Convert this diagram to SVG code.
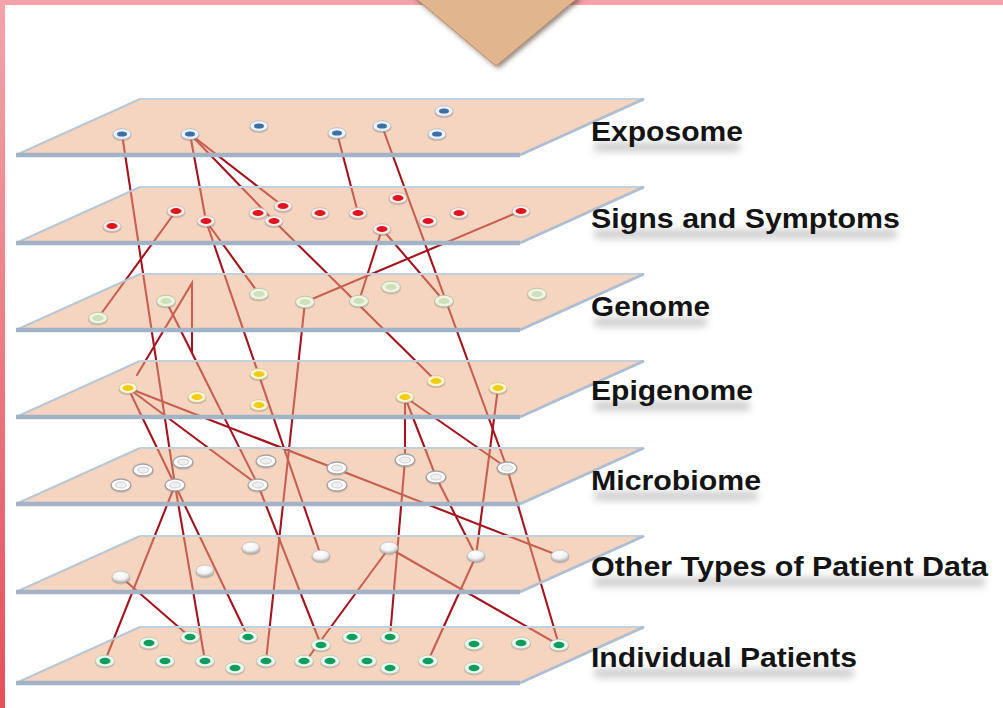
<svg xmlns="http://www.w3.org/2000/svg" width="1003" height="708" viewBox="0 0 1003 708">
<style>
.plane{fill:#ebab81;fill-opacity:.5}
.et{stroke:#c3cfdb;stroke-width:2;fill:none}
.er{stroke:#aebdd0;stroke-width:3;fill:none}
.eb{stroke:#a3b3c6;stroke-width:4.5;fill:none}
.el{stroke:#b9c6d4;stroke-width:2;fill:none}
.lbl{font-family:"Liberation Sans",Arial,sans-serif;font-weight:bold;font-size:27px;fill:#141414}
.sh{fill:#9a9a9a;opacity:.45}
#links line,#links polyline{stroke:#a3141f;stroke-width:2.1;fill:none;stroke-linecap:round}
</style>
<defs>
<linearGradient id="gl" x1="0" y1="0" x2="0" y2="1"><stop offset="0" stop-color="#f4a4aa"/><stop offset="1" stop-color="#e4505c"/></linearGradient>
<radialGradient id="gsph" cx=".45" cy=".3" r=".75"><stop offset="0" stop-color="#ffffff"/><stop offset=".55" stop-color="#f2f2f2"/><stop offset="1" stop-color="#9a9a9a"/></radialGradient>
<filter id="fs" x="-30%" y="-30%" width="160%" height="160%"><feDropShadow dx="2" dy="2" stdDeviation="2.5" flood-color="#3a2a1a" flood-opacity=".6"/></filter>
<filter id="fb" x="-10%" y="-100%" width="120%" height="300%"><feGaussianBlur stdDeviation="3.5"/></filter>
<g id="d-blue"><ellipse cy="1.5" rx="9.5" ry="5.5" fill="#777" opacity=".35"/><ellipse rx="9" ry="5.3" fill="#eef3f7" stroke="#a9bccb" stroke-width=".8"/><ellipse rx="5" ry="2.6" fill="#3d6ea8"/></g>
<g id="d-red"><ellipse cy="1.5" rx="9.5" ry="5.5" fill="#777" opacity=".35"/><ellipse rx="9" ry="5.3" fill="#f6eeea" stroke="#cdb6ae" stroke-width=".8"/><ellipse rx="5.5" ry="3" fill="#e0141e"/></g>
<g id="d-gen"><ellipse cy="1.5" rx="10" ry="6" fill="#777" opacity=".3"/><ellipse rx="9.5" ry="5.8" fill="#eef3e2" stroke="#bcc7a8" stroke-width="1"/><ellipse rx="5.5" ry="3" fill="#cfe0b8"/></g>
<g id="d-yel"><ellipse cy="1.5" rx="9.5" ry="5.5" fill="#777" opacity=".35"/><ellipse rx="9" ry="5.4" fill="#fbf6d8" stroke="#d2c48a" stroke-width=".8"/><ellipse rx="5.5" ry="3" fill="#f0cc10"/></g>
<g id="d-mic"><ellipse cy="1.5" rx="10.5" ry="6.3" fill="#777" opacity=".3"/><ellipse rx="10" ry="6" fill="#fdfdfd" stroke="#a4a4a4" stroke-width="1.4"/><ellipse rx="5.5" ry="3" fill="#efefef" stroke="#c6c6c6" stroke-width=".8"/></g>
<g id="d-oth"><ellipse cy="1.5" rx="9.5" ry="6" fill="#777" opacity=".3"/><ellipse rx="9" ry="6" fill="url(#gsph)" stroke="#b0b0b0" stroke-width=".6"/></g>
<g id="d-ind"><ellipse cy="1.5" rx="10" ry="6" fill="#777" opacity=".3"/><ellipse rx="9.5" ry="5.8" fill="#eef6ee" stroke="#b2c9b9" stroke-width=".8"/><ellipse rx="5.5" ry="3.2" fill="#0c9e5c"/></g>
</defs>

<rect x="0" y="0" width="1003" height="708" fill="#ffffff"/>
<rect x="0" y="0" width="1003" height="5" fill="#f5a3a8"/>
<rect x="0" y="0" width="5" height="708" fill="url(#gl)"/>
<polygon id="arrow" points="413,-4 580,-4 496,66" fill="#e1b58e" stroke="#b88e68" stroke-width="1" filter="url(#fs)"/>

<g id="links">
<line x1="122" y1="134" x2="175" y2="485"/>
<line x1="190" y1="134" x2="206" y2="221"/>
<line x1="190" y1="134" x2="283" y2="206"/>
<line x1="190" y1="134" x2="274" y2="221"/>
<line x1="337" y1="133" x2="358" y2="213"/>
<line x1="382" y1="126" x2="507" y2="468"/>
<line x1="176" y1="211" x2="98" y2="318"/>
<line x1="206" y1="221" x2="259" y2="294"/>
<line x1="206" y1="221" x2="321" y2="556"/>
<line x1="274" y1="221" x2="436" y2="381"/>
<line x1="382" y1="229" x2="359" y2="301"/>
<line x1="382" y1="229" x2="444" y2="301"/>
<line x1="521" y1="211" x2="305" y2="302"/>
<line x1="305" y1="302" x2="266" y2="661"/>
<line x1="166" y1="301" x2="258" y2="485"/>
<polyline points="137,375 192,283 192,352"/>
<line x1="128" y1="388" x2="175" y2="485"/>
<line x1="128" y1="388" x2="258" y2="485"/>
<line x1="128" y1="388" x2="560" y2="556"/>
<line x1="405" y1="397" x2="405" y2="460"/>
<line x1="405" y1="397" x2="436" y2="477"/>
<line x1="405" y1="397" x2="507" y2="468"/>
<line x1="498" y1="388" x2="476" y2="556"/>
<line x1="175" y1="485" x2="105" y2="661"/>
<line x1="175" y1="485" x2="205" y2="661"/>
<line x1="175" y1="485" x2="248" y2="637"/>
<line x1="121" y1="577" x2="190" y2="637"/>
<line x1="258" y1="485" x2="321" y2="645"/>
<line x1="389" y1="548" x2="308" y2="658"/>
<line x1="389" y1="548" x2="559" y2="645"/>
<line x1="405" y1="460" x2="390" y2="637"/>
<line x1="436" y1="477" x2="476" y2="556"/>
<line x1="476" y1="556" x2="428" y2="661"/>
<line x1="507" y1="468" x2="559" y2="645"/>
</g>

<g id="layer-exposome">
<polygon class="plane" points="140,99 644,99 520,155 16,155"/>
<path class="et" d="M140,99H644"/><path class="el" d="M140,99L16,155"/><path class="er" d="M644,99L520,155"/><path class="eb" d="M16,155H520"/>
<use href="#d-blue" x="122" y="134"/><use href="#d-blue" x="190" y="134"/><use href="#d-blue" x="259" y="126"/><use href="#d-blue" x="337" y="133"/><use href="#d-blue" x="382" y="126"/><use href="#d-blue" x="444" y="111"/><use href="#d-blue" x="437" y="134"/>
<rect class="sh" x="594" y="142" width="146" height="10" rx="4" filter="url(#fb)"/>
<text class="lbl" x="591" y="141" textLength="152" lengthAdjust="spacingAndGlyphs">Exposome</text>
</g>

<g id="layer-signs">
<polygon class="plane" points="140,187 644,187 520,243 16,243"/>
<path class="et" d="M140,187H644"/><path class="el" d="M140,187L16,243"/><path class="er" d="M644,187L520,243"/><path class="eb" d="M16,243H520"/>
<use href="#d-red" x="112" y="226"/><use href="#d-red" x="176" y="211"/><use href="#d-red" x="206" y="221"/><use href="#d-red" x="258" y="213"/><use href="#d-red" x="283" y="206"/><use href="#d-red" x="274" y="221"/><use href="#d-red" x="320" y="213"/><use href="#d-red" x="358" y="213"/><use href="#d-red" x="398" y="198"/><use href="#d-red" x="382" y="229"/><use href="#d-red" x="428" y="221"/><use href="#d-red" x="459" y="213"/><use href="#d-red" x="521" y="211"/>
<rect class="sh" x="594" y="229" width="303" height="10" rx="4" filter="url(#fb)"/>
<text class="lbl" x="591" y="228" textLength="309" lengthAdjust="spacingAndGlyphs">Signs and Symptoms</text>
</g>

<g id="layer-genome">
<polygon class="plane" points="140,274 644,274 520,330 16,330"/>
<path class="et" d="M140,274H644"/><path class="el" d="M140,274L16,330"/><path class="er" d="M644,274L520,330"/><path class="eb" d="M16,330H520"/>
<use href="#d-gen" x="98" y="318"/><use href="#d-gen" x="166" y="301"/><use href="#d-gen" x="259" y="294"/><use href="#d-gen" x="305" y="302"/><use href="#d-gen" x="359" y="301"/><use href="#d-gen" x="391" y="287"/><use href="#d-gen" x="444" y="301"/><use href="#d-gen" x="537" y="294"/>
<rect class="sh" x="594" y="317" width="113" height="10" rx="4" filter="url(#fb)"/>
<text class="lbl" x="591" y="316" textLength="119" lengthAdjust="spacingAndGlyphs">Genome</text>
</g>

<g id="layer-epigenome">
<polygon class="plane" points="140,361 644,361 520,417 16,417"/>
<path class="et" d="M140,361H644"/><path class="el" d="M140,361L16,417"/><path class="er" d="M644,361L520,417"/><path class="eb" d="M16,417H520"/>
<use href="#d-yel" x="128" y="388"/><use href="#d-yel" x="197" y="397"/><use href="#d-yel" x="259" y="374"/><use href="#d-yel" x="259" y="405"/><use href="#d-yel" x="436" y="381"/><use href="#d-yel" x="405" y="397"/><use href="#d-yel" x="498" y="388"/>
<rect class="sh" x="594" y="401" width="156" height="10" rx="4" filter="url(#fb)"/>
<text class="lbl" x="591" y="400" textLength="162" lengthAdjust="spacingAndGlyphs">Epigenome</text>
</g>

<g id="layer-microbiome">
<polygon class="plane" points="140,448 644,448 520,504 16,504"/>
<path class="et" d="M140,448H644"/><path class="el" d="M140,448L16,504"/><path class="er" d="M644,448L520,504"/><path class="eb" d="M16,504H520"/>
<use href="#d-mic" x="143" y="470"/><use href="#d-mic" x="183" y="462"/><use href="#d-mic" x="121" y="485"/><use href="#d-mic" x="175" y="485"/><use href="#d-mic" x="266" y="461"/><use href="#d-mic" x="258" y="485"/><use href="#d-mic" x="337" y="468"/><use href="#d-mic" x="337" y="485"/><use href="#d-mic" x="405" y="460"/><use href="#d-mic" x="436" y="477"/><use href="#d-mic" x="507" y="468"/>
<rect class="sh" x="594" y="491" width="164" height="10" rx="4" filter="url(#fb)"/>
<text class="lbl" x="591" y="490" textLength="170" lengthAdjust="spacingAndGlyphs">Microbiome</text>
</g>

<g id="layer-other">
<polygon class="plane" points="140,536 644,536 520,592 16,592"/>
<path class="et" d="M140,536H644"/><path class="el" d="M140,536L16,592"/><path class="er" d="M644,536L520,592"/><path class="eb" d="M16,592H520"/>
<use href="#d-oth" x="121" y="577"/><use href="#d-oth" x="205" y="571"/><use href="#d-oth" x="251" y="548"/><use href="#d-oth" x="321" y="556"/><use href="#d-oth" x="389" y="548"/><use href="#d-oth" x="476" y="556"/><use href="#d-oth" x="560" y="556"/>
<rect class="sh" x="594" y="577" width="391" height="10" rx="4" filter="url(#fb)"/>
<text class="lbl" x="591" y="576" textLength="397" lengthAdjust="spacingAndGlyphs">Other Types of Patient Data</text>
</g>

<g id="layer-individuals">
<polygon class="plane" points="140,627 644,627 520,683 16,683"/>
<path class="et" d="M140,627H644"/><path class="el" d="M140,627L16,683"/><path class="er" d="M644,627L520,683"/><path class="eb" d="M16,683H520"/>
<use href="#d-ind" x="149" y="643"/><use href="#d-ind" x="190" y="637"/><use href="#d-ind" x="248" y="637"/><use href="#d-ind" x="321" y="645"/><use href="#d-ind" x="352" y="637"/><use href="#d-ind" x="390" y="637"/><use href="#d-ind" x="474" y="644"/><use href="#d-ind" x="521" y="643"/><use href="#d-ind" x="559" y="645"/>
<use href="#d-ind" x="105" y="661"/><use href="#d-ind" x="165" y="661"/><use href="#d-ind" x="205" y="661"/><use href="#d-ind" x="235" y="668"/><use href="#d-ind" x="266" y="661"/><use href="#d-ind" x="304" y="661"/><use href="#d-ind" x="330" y="661"/><use href="#d-ind" x="367" y="661"/><use href="#d-ind" x="390" y="668"/><use href="#d-ind" x="428" y="661"/><use href="#d-ind" x="474" y="668"/>
<rect class="sh" x="594" y="668" width="260" height="10" rx="4" filter="url(#fb)"/>
<text class="lbl" x="591" y="667" textLength="266" lengthAdjust="spacingAndGlyphs">Individual Patients</text>
</g>
</svg>
